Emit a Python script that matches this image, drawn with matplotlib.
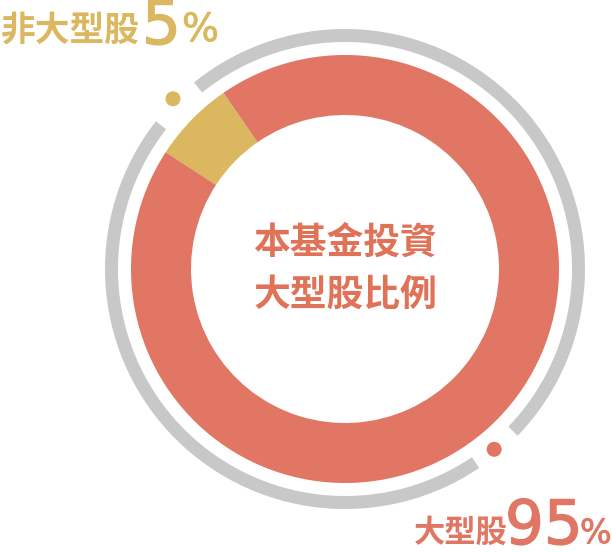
import matplotlib
matplotlib.use('Agg')
import matplotlib.pyplot as plt
import matplotlib.patheffects as pe
from matplotlib.patches import Wedge, Circle
import numpy as np

plt.rcParams['font.family'] = ['Noto Sans CJK TC', 'DejaVu Sans']

# data
segment_names = ['非大型股', '大型股']
segment_shares = [6.2, 93.8]          # drawn share of the ring
label_values = ['5', '95']
center_title = ['本基金投資', '大型股比例']

RED = '#E07663'
YELLOW = '#DBB85F'
GREY = '#C8C8C8'
TEXT_RED = '#E07258'
colors = [YELLOW, RED]
NUM_FONT = ['DejaVu Sans']


def thick(c, w=1.0):
    return [pe.withStroke(linewidth=w, foreground=c)]


W, H = 612, 553
fig = plt.figure(figsize=(W / 100, H / 100), dpi=100)
ax = fig.add_axes([0, 0, 1, 1])

cx, cy = 345, H - 269

# main donut
ax.pie(segment_shares, colors=colors, radius=214, center=(cx, cy),
       startangle=124.6, counterclock=True, frame=True,
       wedgeprops=dict(width=60, linewidth=0))
ax.set_xlim(0, W)
ax.set_ylim(0, H)
ax.set_aspect('equal')
ax.axis('off')

# grey outer ring with two gaps
ax.add_patch(Wedge((cx, cy), 240, -44, 129, width=13, color=GREY, lw=0))
ax.add_patch(Wedge((cx, cy), 240, 142, 304, width=13, color=GREY, lw=0))

# dots in the gaps
for ang, r, c in [(135.3, 242, YELLOW), (-50.4, 234, RED)]:
    a = np.deg2rad(ang)
    ax.add_patch(Circle((cx + r * np.cos(a), cy + r * np.sin(a)), 7.5, color=c, lw=0))

# center title
ax.text(cx, H - 243, center_title[0], ha='center', va='center',
        fontsize=26.5, fontweight='bold', color=TEXT_RED)
ax.text(cx, H - 295, center_title[1], ha='center', va='center',
        fontsize=26.5, fontweight='bold', color=TEXT_RED)

# top-left label
ax.text(1, H - 30, segment_names[0], ha='left', va='center',
        fontsize=25, fontweight='bold', color=YELLOW)
ax.text(142, H - 44, label_values[0], ha='left', va='baseline',
        fontsize=44, family=NUM_FONT, color=YELLOW, path_effects=thick(YELLOW))
ax.text(182, H - 41, '%', ha='left', va='baseline',
        fontsize=28, family=NUM_FONT, color=YELLOW, path_effects=thick(YELLOW, 0.6))

# bottom-right label
ax.text(414, H - 533, segment_names[1], ha='left', va='center',
        fontsize=22.5, fontweight='bold', color=RED)
ax.text(505, H - 544, label_values[1], ha='left', va='baseline',
        fontsize=44, family=NUM_FONT, color=RED, path_effects=thick(RED))
ax.text(580, H - 543, '%', ha='left', va='baseline',
        fontsize=24, family=NUM_FONT, color=RED, path_effects=thick(RED, 0.6))

fig.savefig('out.png', dpi=100, facecolor='white')
